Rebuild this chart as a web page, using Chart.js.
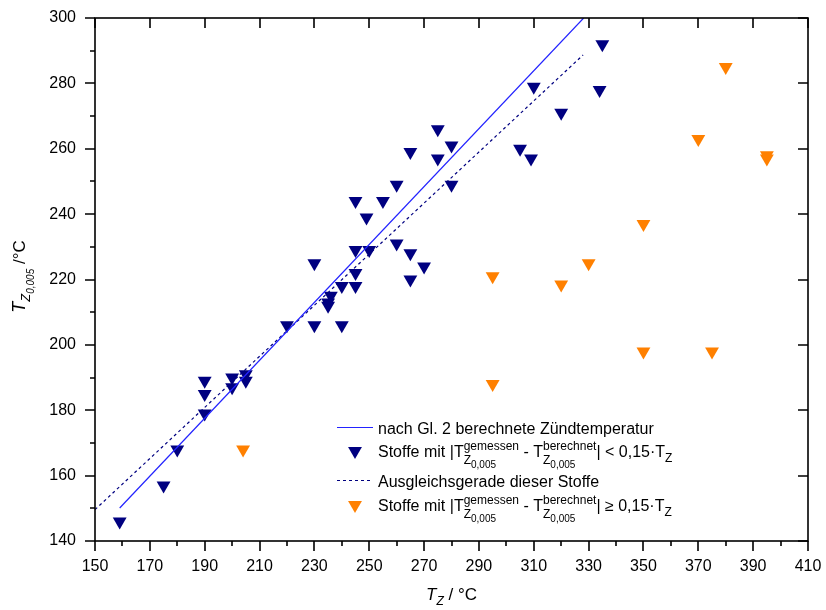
<!DOCTYPE html>
<html>
<head>
<meta charset="utf-8">
<script src="https://cdn.jsdelivr.net/npm/chart.js@4.4.1/dist/chart.umd.min.js"></script>
<style>
  body { margin: 0; background: #fff; }
  #wrap { width: 826px; height: 610px; position: relative; }
</style>
</head>
<body>
<div id="wrap"><canvas id="chart"></canvas></div>
<script>
// T_Z values (x) and measured T_Z,0,005 values (y)
const blueX = [159, 175, 180, 190, 190, 190, 200, 200, 205, 205, 220, 230, 230, 235, 235, 236, 240, 240, 245, 245, 245, 245, 249, 250, 255, 260, 260, 265, 265, 265, 270, 275, 275, 280, 280, 305, 309, 310, 320, 334, 335];
const blueY = [146, 157, 168, 179, 185, 189, 187, 190, 189, 191, 206, 206, 225, 212, 213, 215, 206, 218, 218, 222, 229, 244, 239, 229, 244, 231, 249, 228, 220, 259, 224, 257, 266, 261, 249, 260, 257, 279, 271, 278, 292];

const orangeX = [204, 295, 295, 320, 330, 350, 350, 370, 375, 380, 395, 395];
const orangeY = [168, 221, 188, 218.5, 225, 237, 198, 263, 198, 285, 258, 257];

// line after Gl. 2 and the fitted line (end points)
const calcX = [159, 328.2];
const calcY = [150.1, 300];
const fitX = [150, 328];
const fitY = [149.6, 288.7];

// axis ranges and tick steps
const xMin = 150, xMax = 410, xStep = 20;
const yMin = 140, yMax = 300, yStep = 20;

const fontFam = "'Liberation Sans', Arial, sans-serif";
const navy = '#000080';
const orange = '#ff8000';
const lineBlue = '#2323ff';

function toPoints(xs, ys) {
    return xs.map((x, i) => ({ x: x, y: ys[i] }));
}

// --- small helper to draw text with sub/superscripts on the canvas ---
function setFont(ctx, p) {
    ctx.font = (p.it ? 'italic ' : '') + (p.size || 16) + 'px ' + fontFam;
}
function partWidth(ctx, p) {
    if (p.stack) {
        return Math.max(...p.stack.map(row => row.reduce((w, q) => w + partWidth(ctx, q), 0)));
    }
    setFont(ctx, p);
    return ctx.measureText(p.t).width;
}
function richWidth(ctx, parts) {
    return parts.reduce((w, p) => w + partWidth(ctx, p), 0);
}
function drawRich(ctx, x, y, parts) {
    ctx.textBaseline = 'alphabetic';
    ctx.textAlign = 'left';
    parts.forEach(p => {
        if (p.stack) {
            p.stack.forEach(row => drawRich(ctx, x, y, row));
            x += partWidth(ctx, p);
            return;
        }
        setFont(ctx, p);
        ctx.fillText(p.t, x, y + (p.dy || 0));
        x += ctx.measureText(p.t).width;
    });
}

const zSub = [{ t: 'Z', size: 12, dy: 7 }, { t: '0,005', size: 10, dy: 11 }];
const legendRows = [
    { kind: 'line', color: lineBlue, dash: [], parts: [{ t: 'nach Gl. 2 berechnete Zündtemperatur' }] },
    { kind: 'marker', color: navy, parts: [
        { t: 'Stoffe mit |T' }, { stack: [[{ t: 'gemessen', size: 12, dy: -7 }], zSub] },
        { t: ' - T' }, { stack: [[{ t: 'berechnet', size: 12, dy: -7 }], zSub] },
        { t: '| < 0,15·T' }, { t: 'Z', size: 12, dy: 5 }] },
    { kind: 'line', color: navy, dash: [3, 3], parts: [{ t: 'Ausgleichsgerade dieser Stoffe' }] },
    { kind: 'marker', color: orange, parts: [
        { t: 'Stoffe mit |T' }, { stack: [[{ t: 'gemessen', size: 12, dy: -7 }], zSub] },
        { t: ' - T' }, { stack: [[{ t: 'berechnet', size: 12, dy: -7 }], zSub] },
        { t: '| \u2265 0,15·T' }, { t: 'Z', size: 12, dy: 5 }] }
];
const legendBase = [434, 457, 487, 511];

// frame, ticks, axis titles and legend
const decorations = {
    id: 'decorations',
    afterDraw(chart) {
        const { ctx, chartArea: a, scales: { x, y } } = chart;
        ctx.save();
        ctx.strokeStyle = '#000';
        ctx.lineWidth = 1.6;
        ctx.strokeRect(a.left, a.top, a.right - a.left, a.bottom - a.top);

        ctx.beginPath();
        for (let v = xMin; v <= xMax; v += xStep / 2) {
            const px = Math.round(x.getPixelForValue(v));
            const major = (v - xMin) % xStep === 0;
            ctx.moveTo(px, a.bottom);
            ctx.lineTo(px, a.bottom + (major ? 10 : 5));
            if (major) {
                ctx.moveTo(px, a.top);
                ctx.lineTo(px, a.top + 10);
            }
        }
        for (let v = yMin; v <= yMax; v += yStep / 2) {
            const py = Math.round(y.getPixelForValue(v));
            const major = (v - yMin) % yStep === 0;
            ctx.moveTo(a.left, py);
            ctx.lineTo(a.left - (major ? 10 : 5), py);
            if (major) {
                ctx.moveTo(a.right, py);
                ctx.lineTo(a.right - 10, py);
            }
        }
        ctx.stroke();

        ctx.fillStyle = '#000';
        // x title
        const xt = [{ t: 'T', size: 17, it: true }, { t: 'Z', size: 12, it: true, dy: 5 }, { t: ' / °C', size: 17 }];
        const cx = (a.left + a.right) / 2;
        drawRich(ctx, cx - richWidth(ctx, xt) / 2, 600, xt);
        // y title
        const yt = [{ t: 'T', size: 18, it: true }, { t: 'Z', size: 13, it: true, dy: 5 }, { t: '0,005', size: 10, it: true, dy: 9 }, { t: ' /°C', size: 17 }];
        ctx.save();
        ctx.translate(25, (a.top + a.bottom) / 2 - 3);
        ctx.rotate(-Math.PI / 2);
        drawRich(ctx, -richWidth(ctx, yt) / 2, 0, yt);
        ctx.restore();

        // legend
        legendRows.forEach((row, i) => {
            const base = legendBase[i];
            if (row.kind === 'line') {
                ctx.save();
                ctx.strokeStyle = row.color;
                ctx.lineWidth = 1.2;
                ctx.setLineDash(row.dash);
                ctx.beginPath();
                ctx.moveTo(337, base - 6.5);
                ctx.lineTo(373, base - 6.5);
                ctx.stroke();
                ctx.restore();
            } else {
                ctx.save();
                ctx.fillStyle = row.color;
                ctx.strokeStyle = row.color;
                Chart.helpers.drawPoint(ctx, { pointStyle: 'triangle', rotation: 180, radius: 8, borderWidth: 0 }, 355, base - 6);
                ctx.restore();
            }
            drawRich(ctx, 378, base, row.parts);
        });
        ctx.restore();
    }
};

const ctx = document.getElementById('chart').getContext('2d');

new Chart(ctx, {
    type: 'scatter',
    data: {
        datasets: [
            {
                label: 'nach Gl. 2 berechnete Zündtemperatur',
                data: toPoints(calcX, calcY),
                showLine: true,
                borderColor: lineBlue,
                borderWidth: 1.2,
                pointRadius: 0
            },
            {
                label: 'Ausgleichsgerade dieser Stoffe',
                data: toPoints(fitX, fitY),
                showLine: true,
                borderColor: navy,
                borderWidth: 1.2,
                borderDash: [3, 3],
                pointRadius: 0
            },
            {
                label: 'Stoffe < 0,15 TZ',
                data: toPoints(blueX, blueY),
                pointStyle: 'triangle',
                rotation: 180,
                pointRadius: 8,
                backgroundColor: navy,
                borderColor: navy,
                borderWidth: 0
            },
            {
                label: 'Stoffe >= 0,15 TZ',
                data: toPoints(orangeX, orangeY),
                pointStyle: 'triangle',
                rotation: 180,
                pointRadius: 8,
                backgroundColor: orange,
                borderColor: orange,
                borderWidth: 0
            }
        ]
    },
    options: {
        responsive: true,
        maintainAspectRatio: false,
        animation: false,
        devicePixelRatio: 1,
        layout: { padding: { top: 18, right: 18, left: 0, bottom: 0 } },
        plugins: {
            legend: { display: false },
            tooltip: { enabled: false }
        },
        scales: {
            x: {
                type: 'linear',
                min: xMin,
                max: xMax,
                grid: { display: false, drawTicks: false },
                border: { display: false },
                ticks: { stepSize: xStep, color: '#000', padding: 16, maxRotation: 0, font: { family: fontFam, size: 16 } },
                afterFit(scale) {
                    scale.height = 69;
                    scale.paddingLeft = 0;
                    scale.paddingRight = 0;
                }
            },
            y: {
                type: 'linear',
                min: yMin,
                max: yMax,
                grid: { display: false, drawTicks: false },
                border: { display: false },
                ticks: { stepSize: yStep, color: '#000', padding: 19, font: { family: fontFam, size: 16 } },
                afterFit(scale) {
                    scale.width = 95;
                    scale.paddingTop = 0;
                    scale.paddingBottom = 0;
                }
            }
        }
    },
    plugins: [decorations]
});
</script>
</body>
</html>
